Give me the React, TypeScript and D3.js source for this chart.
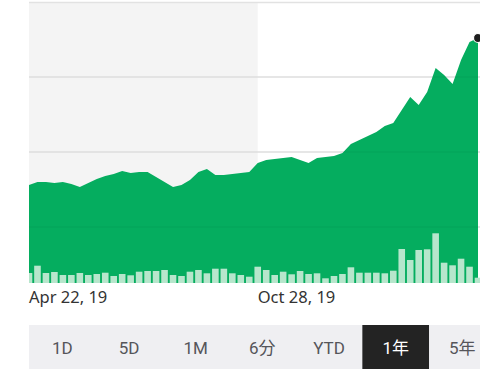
import React from "react";
import * as d3 from "d3";

// Weekly closing prices (one per week, starting Apr 22, 2019)
const prices: number[] = [
  142.4, 144.0, 144.0, 143.5, 144.0, 142.9, 141.3, 143.5, 145.6, 147.2,
  148.3, 149.9, 148.8, 149.3, 149.3, 146.7, 144.0, 141.3, 142.4, 145.1,
  149.3, 150.9, 147.7, 147.7, 148.3, 148.8, 149.3, 154.1, 155.7, 156.3,
  156.8, 157.3, 155.7, 154.1, 156.8, 157.3, 157.9, 159.5, 164.3, 166.4,
  168.5, 170.7, 173.9, 175.5, 182.4, 189.3, 185.1, 192.0, 204.8, 201.1,
  196.3, 209.1, 218.7, 220.8,
];

// Weekly volume (relative units)
const volumes: number[] = [
  10, 17.3, 10, 11, 8, 8, 10, 8, 9, 10.3,
  7, 9, 7.7, 11.3, 12, 12, 13, 8, 7, 11.3,
  13, 9.7, 14.3, 14.3, 9.7, 8, 6.3, 16.3, 13, 8,
  11.3, 8.7, 12, 9, 9.7, 4.7, 7, 9, 15.7, 10.3,
  10.3, 10.3, 9.7, 12.3, 34, 23, 33, 33.7, 49.7, 20.3,
  17.7, 24.3, 16.3, 5.3,
];

const tickIndex: number[] = [0, 27];
const tickLabels: string[] = ["Apr 22, 19", "Oct 28, 19"];

const gridPrices: number[] = [240, 200, 160, 120];

const ranges: string[] = ["1D", "5D", "1M", "6分", "YTD", "1年", "5年"];
const selectedRange = "1年";

const W = 480;
const H = 385;
const left = 29;
const right = 478;
const top = 2;
const bottom = 283;

export default function App() {
  const x = d3.scaleLinear().domain([0, prices.length - 1]).range([left, right]);
  const y = d3.scaleLinear().domain([90.13, 240]).range([bottom, top]);
  const yv = d3.scaleLinear().domain([0, 60]).range([bottom, bottom - 60]);

  const area = d3
    .area<number>()
    .x((_, i) => x(i))
    .y0(bottom)
    .y1((d) => y(d));

  const barW = 6.6;
  const last = prices.length - 1;

  const btnX = d3.scaleBand<string>().domain(ranges).range([left, left + 66.67 * ranges.length]);

  return (
    <svg
      width={W}
      height={H}
      style={{ position: "absolute", left: 0, top: 0, background: "#fff" }}
    >
      <defs>
        <clipPath id="plot">
          <rect x={left} y={0} width={W - left} height={bottom} />
        </clipPath>
      </defs>
      {/* shaded period band */}
      <rect
        x={x(tickIndex[0])}
        y={top}
        width={x(tickIndex[1]) - x(tickIndex[0])}
        height={bottom - top}
        fill="#f4f4f4"
      />
      {/* top line */}
      <line x1={left} x2={W} y1={top + 0.5} y2={top + 0.5} stroke="#e2e2e2" strokeWidth={1.5} />

      {/* gridlines (under the area) */}
      {gridPrices.slice(1).map((p, i) => (
        <line
          key={i}
          x1={left}
          x2={W}
          y1={y(p)}
          y2={y(p)}
          stroke="#e6e6e6"
          strokeWidth={1.5}
        />
      ))}

      <g clipPath="url(#plot)">
        <path d={area(prices) || ""} fill="#05ad5f" />
        {volumes.map((v, i) => (
          <rect
            key={i}
            x={x(i) - barW / 2}
            y={yv(v)}
            width={barW}
            height={bottom - yv(v)}
            fill="#b7e6cc"
          />
        ))}
      </g>

      {/* faint gridlines over the area */}
      {gridPrices.slice(1).map((p, i) => (
        <line
          key={i}
          x1={left}
          x2={W}
          y1={y(p)}
          y2={y(p)}
          stroke="rgba(0,0,0,0.03)"
          strokeWidth={1.5}
        />
      ))}

      {/* last point marker */}
      <circle cx={x(last)} cy={y(prices[last])} r={4.5} fill="#1e1e1e" stroke="#fff" strokeWidth={1.2} />

      {/* x-axis labels */}
      {tickIndex.map((t, i) => (
        <text
          key={i}
          x={x(t)}
          y={303}
          fontFamily="'Noto Sans', 'Open Sans', sans-serif"
          fontSize={16.5}
          fill="#333"
        >
          {tickLabels[i]}
        </text>
      ))}

      {/* range buttons */}
      <rect x={left} y={325} width={W - left} height={44} fill="#efeff2" />
      {ranges.map((r) => {
        const bx = btnX(r) as number;
        const bw = btnX.bandwidth();
        const sel = r === selectedRange;
        return (
          <g key={r}>
            {sel && <rect x={bx} y={325} width={bw} height={44} fill="#232323" />}
            <text
              x={bx + bw / 2}
              y={354}
              textAnchor="middle"
              fontFamily="Roboto, 'Noto Sans CJK JP', sans-serif"
              fontSize={17}
              fill={sel ? "#fff" : "#55555a"}
            >
              {r}
            </text>
          </g>
        );
      })}
    </svg>
  );
}
